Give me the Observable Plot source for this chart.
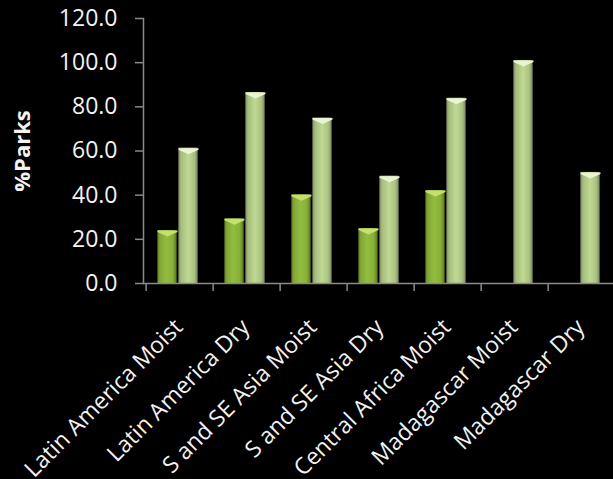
<!DOCTYPE html>
<html>
<head>
<meta charset="utf-8">
<script src="https://cdn.jsdelivr.net/npm/d3@7"></script>
<script src="https://cdn.jsdelivr.net/npm/@observablehq/plot@0.6"></script>
<style>
  html, body { margin: 0; padding: 0; background: #000; overflow: hidden; }
  #chart svg { max-width: none !important; display: block; }
</style>
</head>
<body>
<div id="chart"></div>
<script>
// Regions on the x axis
const regions = [
  "Latin America Moist",
  "Latin America Dry",
  "S and SE Asia Moist",
  "S and SE Asia Dry",
  "Central Africa Moist",
  "Madagascar Moist",
  "Madagascar Dry"
];
// Share of parks (%) for the two series; Madagascar has no first-series value
const series1 = [24.0, 29.3, 40.2, 24.9, 42.1, null, null];
const series2 = [61.3, 86.5, 74.9, 48.6, 83.9, 101.0, 50.3];
const yTicks = [0, 20, 40, 60, 80, 100, 120];

const rows1 = regions.map((region, i) => ({region, value: series1[i]})).filter(d => d.value != null);
const rows2 = regions.map((region, i) => ({region, value: series2[i]}));

const W = 617, H = 479, ML = 143, MR = 0, MT = 18, MB = 196;
const step = (W - ML - MR) / regions.length;   // width of one region band
const barW = 20;                                // width of each bar
const gap = 1;                                  // gap between the paired bars
const lead = (step - 2 * barW - gap) / 2 - 2;   // space before the first bar of a pair
const grid = "#8a8a8a";
const font = "'Open Sans', sans-serif";

// Horizontal shading for the cylinder-like bars
function gradients() {
  const defs = d3.create("svg:defs");
  const add = (id, stops) => {
    const g = defs.append("linearGradient").attr("id", id)
      .attr("x1", "0").attr("x2", "1").attr("y1", "0").attr("y2", "0");
    stops.forEach(([o, c]) => g.append("stop").attr("offset", o).attr("stop-color", c));
  };
  add("gDark", [[0, "#5e7a22"], [0.12, "#80a634"], [0.45, "#93bd3e"], [0.8, "#87b037"], [1, "#5a7420"]]);
  add("gLight", [[0, "#7d8a66"], [0.14, "#a6bd7c"], [0.5, "#bfd893"], [0.82, "#abc381"], [1, "#7a8762"]]);
  return defs.node();
}

// Shallow chevron drawn on top of each bar
const chevron = {
  draw(ctx, size) {
    const w = Math.sqrt(size);
    ctx.moveTo(-w, 0);
    ctx.lineTo(w, 0);
    ctx.lineTo(w, 1.5);
    ctx.lineTo(0, w * 0.6);
    ctx.lineTo(-w, 1.5);
    ctx.closePath();
  }
};
const capR = (barW / 2) / Math.sqrt(Math.PI);

const x1 = lead + barW / 2 - step / 2;              // centre offset of the first bar
const x2 = lead + barW + gap + barW / 2 - step / 2; // centre offset of the second bar

const chart = Plot.plot({
  width: W,
  height: H,
  marginTop: MT,
  marginBottom: MB,
  marginLeft: ML,
  marginRight: MR,
  style: {background: "#000", color: "#f2f2f2", fontFamily: font},
  x: {domain: regions, padding: 0, label: null},
  y: {domain: [0, 120], label: null},
  marks: [
    gradients,
    Plot.barY(rows1, {
      x: "region", y: "value", fill: "url(#gDark)",
      insetLeft: lead, insetRight: step - lead - barW
    }),
    Plot.barY(rows2, {
      x: "region", y: "value", fill: "url(#gLight)",
      insetLeft: lead + barW + gap, insetRight: step - lead - 2 * barW - gap
    }),
    Plot.dot(rows1, {x: "region", y: "value", dx: x1, symbol: chevron, r: capR, fill: "#c6e070", stroke: "none"}),
    Plot.dot(rows2, {x: "region", y: "value", dx: x2, symbol: chevron, r: capR, fill: "#eaf4d4", stroke: "none"}),
    Plot.ruleY([0], {stroke: grid, strokeWidth: 1.5}),
    Plot.frame({anchor: "left", stroke: grid, strokeWidth: 1.5}),
    Plot.axisY({
      ticks: yTicks, tickSize: 8, tickPadding: 18, stroke: grid, strokeWidth: 1.5,
      tickFormat: d => d.toFixed(1), fontSize: 23, label: null
    }),
    // Tick marks sit on the boundaries between regions
    Plot.axisX({tickSize: 8, tickFormat: () => "", dx: -step / 2, stroke: grid, strokeWidth: 1.5, label: null}),
    // Region names, slanted
    Plot.text(regions, {
      x: d => d, frameAnchor: "bottom", rotate: -45, textAnchor: "end", lineAnchor: "bottom",
      dx: 4, dy: 45, fontSize: 23, fill: "#f2f2f2"
    }),
    Plot.text(["%Parks"], {
      frameAnchor: "left", rotate: -90, dx: -121, textAnchor: "middle", lineAnchor: "middle",
      fontWeight: "bold", fontSize: 22, fill: "#f2f2f2"
    })
  ]
});

document.getElementById("chart").append(chart);
</script>
</body>
</html>
